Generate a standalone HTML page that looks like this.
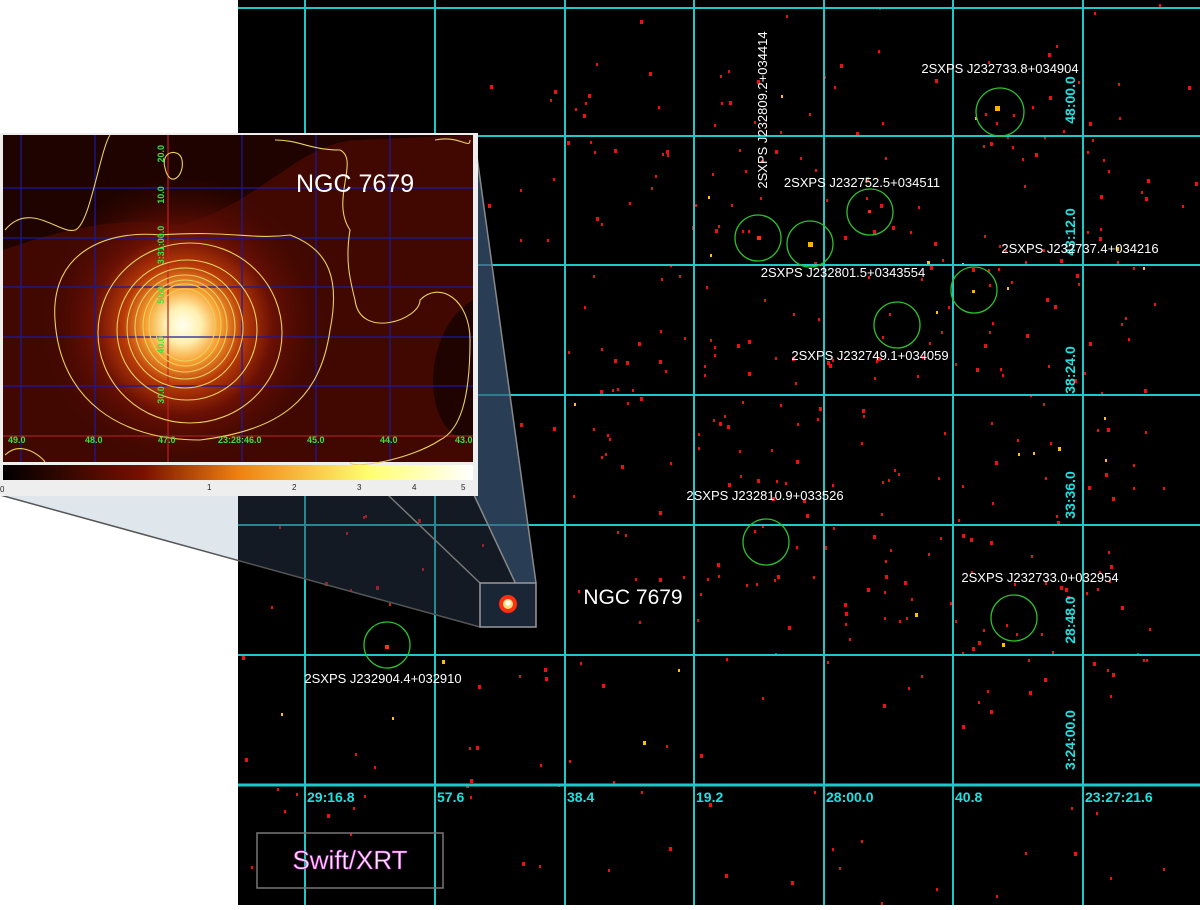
<!DOCTYPE html>
<html><head><meta charset="utf-8"><style>
html,body{margin:0;padding:0;background:#fff;width:1200px;height:910px;overflow:hidden}
svg{position:absolute;left:0;top:0}
text{font-family:"Liberation Sans",sans-serif}
</style></head><body>
<svg width="1200" height="910" viewBox="0 0 1200 910" xmlns="http://www.w3.org/2000/svg">
<defs>
<radialGradient id="blob" cx="183" cy="325" r="150" gradientUnits="userSpaceOnUse">
<stop offset="0" stop-color="#fffff0"/><stop offset="0.12" stop-color="#fff0b0"/>
<stop offset="0.25" stop-color="#f8a030"/><stop offset="0.4" stop-color="#b83a08"/>
<stop offset="0.6" stop-color="#6a1004"/><stop offset="1" stop-color="#3a0600" stop-opacity="0"/>
</radialGradient>
<linearGradient id="cbar" x1="0" x2="1"><stop offset="0" stop-color="#000"/><stop offset="0.3" stop-color="#7a1000"/><stop offset="0.5" stop-color="#f08010"/><stop offset="0.78" stop-color="#ffff70"/><stop offset="1" stop-color="#fff"/></linearGradient>
</defs>
<rect x="238" y="0" width="962" height="905" fill="#000"/>
<g id="dots"></g>
<g stroke="#1ec8c8" stroke-width="2">
<line x1="305" y1="0" x2="305" y2="905"/><line x1="435" y1="0" x2="435" y2="905"/>
<line x1="565" y1="0" x2="565" y2="905"/><line x1="694" y1="0" x2="694" y2="905"/>
<line x1="824" y1="0" x2="824" y2="905"/><line x1="953" y1="0" x2="953" y2="905"/>
<line x1="1083" y1="0" x2="1083" y2="905"/>
<line x1="238" y1="8" x2="1200" y2="8"/><line x1="238" y1="136" x2="1200" y2="136"/>
<line x1="238" y1="265" x2="1200" y2="265"/><line x1="238" y1="395" x2="1200" y2="395"/>
<line x1="238" y1="525" x2="1200" y2="525"/><line x1="238" y1="655" x2="1200" y2="655"/>
<line x1="238" y1="785" x2="1200" y2="785" stroke-width="3"/>
</g>
<g fill="#20e0e0" font-family="Liberation Serif,serif" font-weight="bold" font-size="14">
<text x="307" y="802">29:16.8</text><text x="437" y="802">57.6</text><text x="567" y="802">38.4</text>
<text x="696" y="802">19.2</text><text x="826" y="802">28:00.0</text><text x="955" y="802">40.8</text>
<text x="1085" y="802">23:27:21.6</text>
<g transform="translate(1075,100) rotate(-90)"><text text-anchor="middle">48:00.0</text></g>
<g transform="translate(1075,232) rotate(-90)"><text text-anchor="middle">43:12.0</text></g>
<g transform="translate(1075,370) rotate(-90)"><text text-anchor="middle">38:24.0</text></g>
<g transform="translate(1075,495) rotate(-90)"><text text-anchor="middle">33:36.0</text></g>
<g transform="translate(1075,620) rotate(-90)"><text text-anchor="middle">28:48.0</text></g>
<g transform="translate(1075,740) rotate(-90)"><text text-anchor="middle">3:24:00.0</text></g>
</g>
<g fill="none" stroke="#2ec02e" stroke-width="1.3">
<circle cx="1000" cy="112" r="24"/><circle cx="870" cy="212" r="23"/><circle cx="758" cy="238" r="23"/>
<circle cx="810" cy="244" r="23"/><circle cx="974" cy="290" r="23"/><circle cx="897" cy="325" r="23"/>
<circle cx="766" cy="542" r="23"/><circle cx="1014" cy="618" r="23"/><circle cx="387" cy="645" r="23"/>
</g>
<g fill="#ff3010"><rect x="995" y="106" width="5" height="5" fill="#ffb000"/><rect x="808" y="242" width="5" height="5" fill="#ffb000"/><rect x="757" y="236" width="4" height="4"/><rect x="868" y="210" width="3" height="3"/><rect x="972" y="290" width="3" height="3" fill="#ffb000"/><rect x="385" y="645" width="4" height="4"/></g>
<g fill="#fff" font-size="13" text-anchor="middle">
<text x="1000" y="73">2SXPS J232733.8+034904</text>
<text x="862" y="187">2SXPS J232752.5+034511</text>
<text x="843" y="277">2SXPS J232801.5+0343554</text>
<text x="1080" y="253">2SXPS J232737.4+034216</text>
<text x="870" y="360">2SXPS J232749.1+034059</text>
<text x="765" y="500">2SXPS J232810.9+033526</text>
<text x="1040" y="582">2SXPS J232733.0+032954</text>
<text x="383" y="683">2SXPS J232904.4+032910</text>
<g transform="translate(767,110) rotate(-90)"><text x="0" y="0">2SXPS J232809.2+034414</text></g>
<text x="633" y="604" font-size="21">NGC 7679</text>
</g>
<!-- zoom funnel -->
<polygon points="0,495 238,495 238,560" fill="#dfe6ec"/>
<polygon points="238,495 474,495 536,627 480,627 238,560" fill="#2a3a50" opacity="0.45"/>
<polygon points="474,135 536,583 536,627 474,495" fill="#3a5878" opacity="0.7"/>
<line x1="0" y1="495" x2="480" y2="627" stroke="#555" stroke-width="1.5"/>
<line x1="388" y1="495" x2="480" y2="583" stroke="#777" stroke-width="1.5"/>
<line x1="474" y1="135" x2="536" y2="583" stroke="#888" stroke-width="1.5"/>
<line x1="474" y1="495" x2="536" y2="627" stroke="#888" stroke-width="1.5"/>
<rect x="480" y="583" width="56" height="44" fill="#1a2535" stroke="#999" stroke-width="1.5"/>
<circle cx="508" cy="604" r="9" fill="#ff3010"/><circle cx="508" cy="604" r="5" fill="#ffe080"/><circle cx="508" cy="603" r="2.5" fill="#fff"/>
<!-- inset -->
<rect x="0" y="133" width="478" height="363" fill="#eee"/>
<rect x="3" y="135" width="470" height="327" fill="#1e0300"/>
<path d="M3,250 C60,230 120,215 180,225 C260,205 300,140 360,140 L473,135 L473,300 C420,330 420,440 473,440 L473,462 L3,462Z" fill="#4a0a02" opacity="0.8"/>
<rect x="3" y="135" width="470" height="327" fill="url(#blob)"/>
<g stroke="#1a1aa0" stroke-width="1.2">
<line x1="3" y1="188" x2="473" y2="188"/><line x1="3" y1="238" x2="473" y2="238"/><line x1="3" y1="287" x2="473" y2="287"/><line x1="3" y1="337" x2="473" y2="337"/><line x1="3" y1="386" x2="473" y2="386"/>
<line x1="95" y1="135" x2="95" y2="462"/><line x1="242" y1="135" x2="242" y2="462"/><line x1="316" y1="135" x2="316" y2="462"/><line x1="390" y1="135" x2="390" y2="462"/><line x1="21" y1="135" x2="21" y2="462"/>
</g>
<line x1="168" y1="135" x2="168" y2="462" stroke="#c02020" stroke-width="1.2"/>
<line x1="3" y1="436" x2="473" y2="436" stroke="#a02020" stroke-width="1.2"/>
<g fill="none" stroke="#e8d060" stroke-width="1.1">
<ellipse cx="185" cy="325" rx="30" ry="36"/><ellipse cx="185" cy="325" rx="36" ry="41"/><ellipse cx="185" cy="326" rx="42" ry="46"/><ellipse cx="185" cy="327" rx="50" ry="52"/><ellipse cx="185" cy="328" rx="58" ry="60"/><ellipse cx="187" cy="330" rx="70" ry="70"/><ellipse cx="190" cy="333" rx="92" ry="90"/>
<path d="M55,320 C50,250 110,230 160,235 C230,230 250,240 290,235 C330,250 340,280 330,330 C320,400 280,430 200,440 C120,440 60,400 55,320Z"/>
<path d="M5,230 C30,200 60,235 75,230 C90,225 100,150 110,135"/>
<path d="M275,140 C300,140 310,150 340,150 C360,160 330,200 350,230 C345,260 350,280 355,300 C360,340 420,320 420,300 C440,280 470,300 470,340 C470,400 460,430 440,440 C410,460 350,470 350,462"/>
<path d="M165,168 C160,150 180,148 182,160 C185,175 170,190 165,168Z"/>
<path d="M5,455 C20,440 40,455 45,462"/>
<path d="M435,140 C460,135 470,150 470,140"/>
</g>
<g fill="#40e040" font-size="9" font-weight="bold">
<text x="8" y="443">49.0</text><text x="85" y="443">48.0</text><text x="158" y="443">47.0</text><text x="218" y="443">23:28:46.0</text><text x="307" y="443">45.0</text><text x="380" y="443">44.0</text><text x="455" y="443">43.0</text>
<g transform="translate(164,145) rotate(-90)"><text text-anchor="end">20.0</text></g>
<g transform="translate(164,195) rotate(-90)"><text text-anchor="middle">10.0</text></g>
<g transform="translate(164,245) rotate(-90)"><text text-anchor="middle">3:31:00.0</text></g>
<g transform="translate(164,295) rotate(-90)"><text text-anchor="middle">50.0</text></g>
<g transform="translate(164,345) rotate(-90)"><text text-anchor="middle">40.0</text></g>
<g transform="translate(164,395) rotate(-90)"><text text-anchor="middle">30.0</text></g>
</g>
<text x="296" y="192" fill="#fff" font-size="25">NGC 7679</text>
<rect x="3" y="465" width="470" height="15" fill="url(#cbar)"/>
<g fill="#222" font-size="8"><text x="0" y="492">0</text><text x="207" y="490">1</text><text x="292" y="490">2</text><text x="357" y="490">3</text><text x="412" y="490">4</text><text x="461" y="490">5</text></g>
<!-- Swift -->
<rect x="257" y="833" width="186" height="55" fill="none" stroke="#777" stroke-width="1.5"/>
<text x="350" y="869" fill="#f8e8ff" stroke="#c020c0" stroke-width="0.6" font-size="26" text-anchor="middle">Swift/XRT</text>
</svg>
<script>
(function(){var g=document.getElementById('dots');var s=12345;function r(){s=(s*1103515245+12345)%2147483648;return s/2147483648;}
var h='';for(var i=0;i<800;i++){var x=240+r()*958,y=2+r()*900;
if(x<478&&y<500)continue;
var dens=(x>560&&x<1150&&y>50&&y<700)?1:0.3;if(r()>dens)continue;
var c=r()<0.05?'#ffc000':'#f01010';var w=r()<0.3?3:2;h+='<rect x="'+x.toFixed(0)+'" y="'+y.toFixed(0)+'" width="'+w+'" height="'+(w+1)+'" fill="'+c+'"/>';}
g.innerHTML=h;})();
</script>
</body></html>
